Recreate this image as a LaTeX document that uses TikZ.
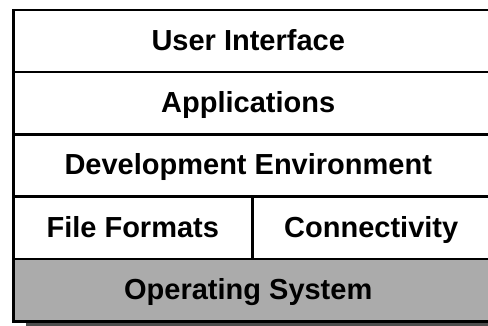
\documentclass[tikz,border=0pt]{standalone}
\usepackage{fontspec}
\setmainfont{Liberation Sans}
\definecolor{osgray}{HTML}{ABABAB}
\definecolor{shadowgray}{HTML}{4D4D4D}
\begin{document}
\begin{tikzpicture}[x=1pt,y=-1pt,
  cell/.style={draw=black, line width=2.5pt, fill=white, anchor=north west,
    inner sep=0pt, text height=20.7pt, text depth=3pt,
    font=\fontsize{29}{32}\selectfont\bfseries},
  wide/.style={cell, minimum width=477pt, minimum height=62pt,
    execute at end node={\kern7pt}},
  half/.style={cell, minimum width=239pt, minimum height=62pt},
  oscell/.style={wide, fill=osgray}]
\useasboundingbox (0,0) rectangle (488,326);
\clip (0,0) rectangle (488,326);
\fill[shadowgray] (26,15) rectangle (503,327);
\node[wide] (ui) at (12,9) {User Interface};
\node[wide] (apps) at (12,71) {Applications};
\node[wide] (dev) at (12,133.5) {Development Environment};
\node[half] (ff) at (12,196) {File Formats};
\node[half, minimum width=238pt] (conn) at (251,196) {Connectivity};
\node[oscell] (os) at (12,258) {Operating System};
\end{tikzpicture}
\end{document}
